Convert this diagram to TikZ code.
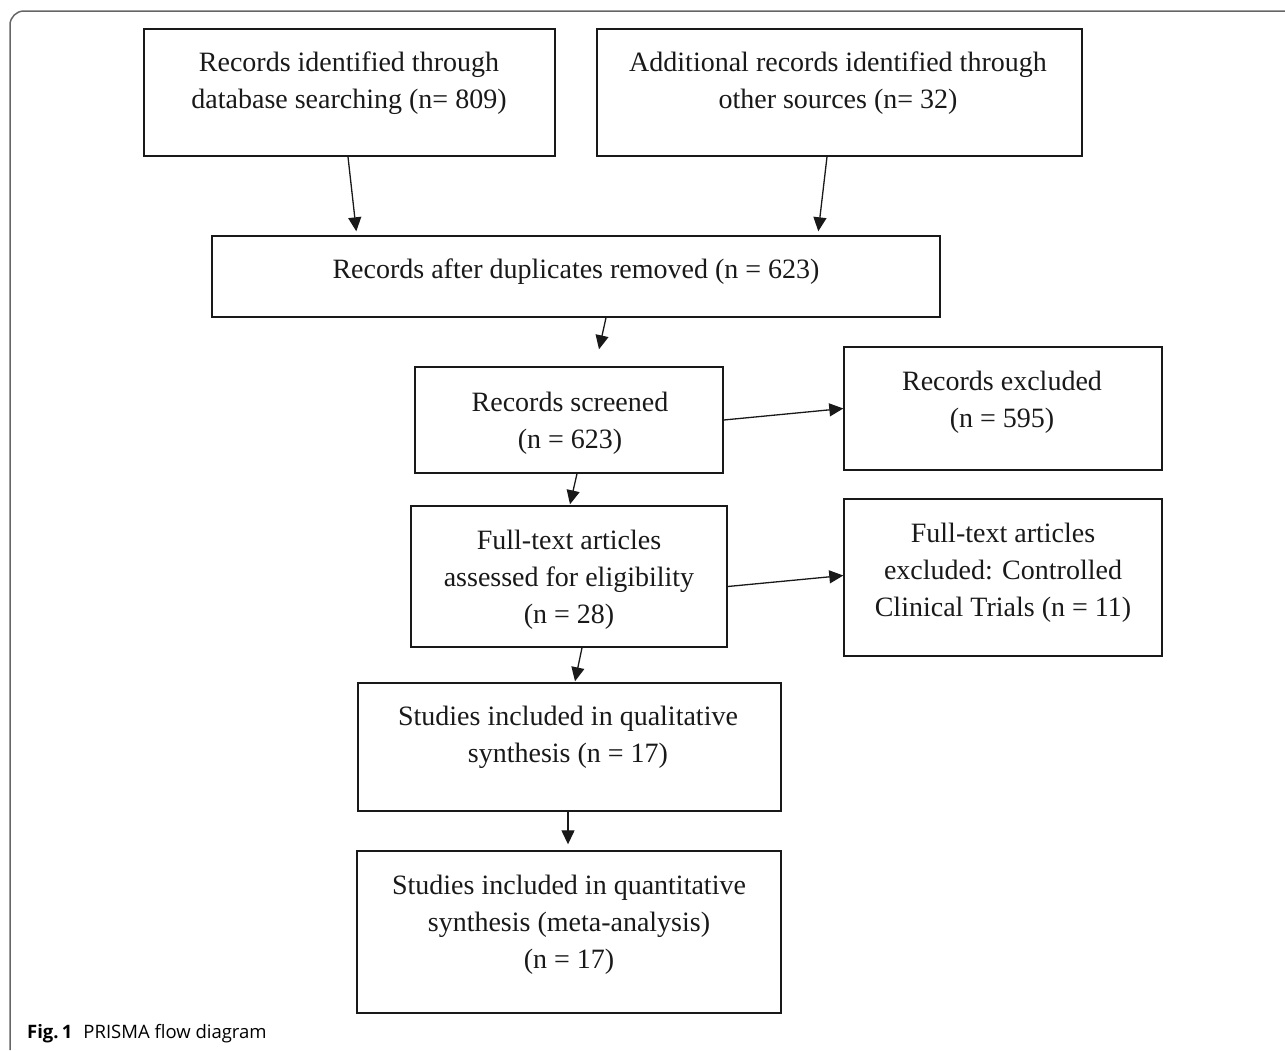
\documentclass[tikz,border=0pt]{standalone}
\usepackage{fontspec}
\setmainfont{Liberation Serif}
\newfontfamily\capfont{Open Sans}
\usetikzlibrary{arrows.meta,calc}
\begin{document}
\begin{tikzpicture}[x=1pt,y=-1pt,
  box/.style={draw=black!90, line width=1.4pt, inner sep=0pt},
  txt/.style={align=center, font=\fontsize{28}{37}\selectfont, inner sep=0pt, text=black!90},
  arr/.style={draw=black!90, line width=1.3pt, -{Triangle[length=14pt,width=13pt]}}]
\useasboundingbox (0,0) rectangle (1285,1050);
\draw[black!60, line width=1.5pt, rounded corners=14pt] (10,1050) -- (10,11) -- (1285,11);
% boxes
\node[box, minimum width=411pt, minimum height=127pt] (A) at (349.5,92.5) {};
\node[box, minimum width=485pt, minimum height=127pt] (B) at (839.5,92.5) {};
\node[box, minimum width=728pt, minimum height=81pt] (C) at (576,276.5) {};
\node[box, minimum width=308pt, minimum height=106pt] (D) at (569,420) {};
\node[box, minimum width=318pt, minimum height=123pt] (E) at (1003,408.5) {};
\node[box, minimum width=316pt, minimum height=141pt] (F) at (569,576.5) {};
\node[box, minimum width=318pt, minimum height=157pt] (G) at (1003,577.5) {};
\node[box, minimum width=423pt, minimum height=128pt] (H) at (569.5,747) {};
\node[box, minimum width=424pt, minimum height=162pt] (I) at (569,932) {};
% texts
\node[txt] (At) at (349,83) {Records identified through\\database searching (n= 809)};
\node[txt] (Bt) at (838,83) {Additional records identified through\\other sources (n= 32)};
\node[txt] (Ct) at (576,272) {Records after duplicates removed (n = 623)};
\node[txt] (Dt) at (570,423) {Records screened\\(n = 623)};
\node[txt] (Et) at (1002,402) {Records excluded\\(n = 595)};
\node[txt] (Ft) at (569,580) {Full-text articles\\assessed for eligibility\\(n = 28)};
\node[txt] (Gt) at (1003,573) {Full-text articles\\excluded: Controlled\\Clinical Trials (n = 11)};
\node[txt] (Ht) at (568,737.5) {Studies included in qualitative\\synthesis (n = 17)};
\node[txt] (It) at (569,925) {Studies included in quantitative\\synthesis (meta-analysis)\\(n = 17)};
% arrows
\draw[arr] ($(A.south)+(-1.5,0)$) -- ($(C.north west)+(145,-4)$);
\draw[arr] ($(B.south)+(-12.5,0)$) -- ($(C.north west)+(607,-4)$);
\draw[arr] ($(C.south)+(30,0)$) -- ($(D.north)+(30,-17)$);
\draw[arr] (D.east) -- (E.west);
\draw[arr] ($(F.east)+(0,10)$) -- ($(G.west)+(0,-2)$);
\draw[arr] ($(D.south)+(8,0)$) -- ($(F.north)+(1,-1)$);
\draw[arr] ($(F.south)+(13,0)$) -- ($(H.north)+(5.5,-1)$);
\draw[arr] ($(H.south)+(-1.5,0)$) -- ($(I.north)+(-1,-6)$);
% caption
\node[anchor=west, inner sep=0pt, font=\capfont\fontsize{18.5}{22}\selectfont] (cap) at (27,1034) {\textbf{Fig.\,1}\hspace{0.6em}PRISMA flow diagram};
\end{tikzpicture}
\end{document}
